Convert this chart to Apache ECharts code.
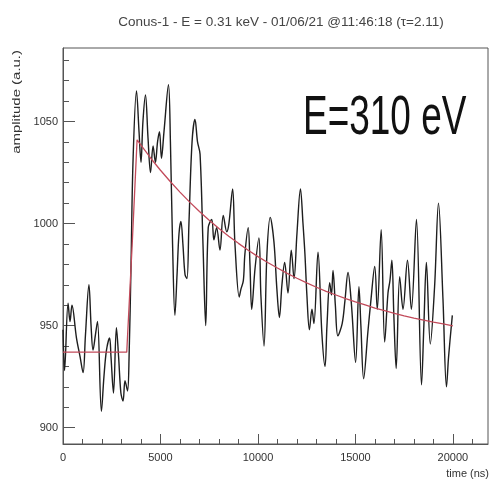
<!DOCTYPE html>
<html>
<head>
<meta charset="utf-8">
<script src="https://cdn.jsdelivr.net/npm/echarts@6/dist/echarts.min.js"></script>
<style>
  html, body { margin: 0; padding: 0; background: #fff; }
  #chart { width: 492px; height: 483px; }
</style>
</head>
<body>
<div id="chart"></div>
<script>
const timeNs = [
  0, 80, 260, 360, 460, 690, 870, 1030, 1150, 1330, 1440, 1540, 1670, 1770, 1970,
  2100, 2230, 2390, 2460, 2590, 2740, 2850, 2970, 3080, 3180, 3310, 3390, 3490, 3590,
  3770, 3900, 4000, 4100, 4230, 4360, 4490, 4620, 4740, 4850, 4950, 5050, 5180, 5410,
  5510, 5620, 5740, 5850, 5950, 6050, 6150, 6260, 6360, 6460, 6620, 6770, 6900, 7030,
  7180, 7320, 7450, 7630, 7740, 7880, 8050, 8220, 8400, 8510, 8700, 8820, 9040, 9130,
  9250, 9330, 9500, 9590, 9680, 9850, 10050, 10150, 10310, 10460, 10630, 10820, 10970,
  11100, 11230, 11370, 11540, 11710, 11850, 12000, 12180, 12310, 12410, 12510, 12640,
  12770, 12870, 13080, 13280, 13440, 13540, 13680, 13770, 13850, 13970, 14100, 14320,
  14460, 14620, 14790, 15010, 15180, 15280, 15420, 15640, 15800, 15990, 16120, 16320,
  16500, 16670, 16770, 16870, 16970, 17090, 17270, 17440, 17670, 17870, 18130, 18390,
  18510, 18640, 18840, 19060, 19260, 19490, 19670, 19780, 19970
];
const amplitude = [
  948, 928, 961, 952, 960, 944, 935, 927, 945, 970, 950, 938, 946, 952, 908,
  925, 938, 944, 935, 917, 949, 935, 917, 913, 923, 918, 935, 980, 1030,
  1065, 1045, 1030, 1050, 1063, 1042, 1025, 1038, 1030, 1040, 1045, 1032, 1045, 1068,
  1040, 990, 955, 975, 995, 1001, 990, 975, 973, 1000, 1040, 1051, 1040, 1034,
  990, 950, 998, 1002, 992, 998, 987, 1004, 996, 1000, 1017, 990, 964, 968,
  972, 985, 998, 980, 958, 978, 993, 965, 940, 985, 1003, 991, 968,
  954, 970, 981, 966, 987, 973, 995, 1017, 1000, 985, 965, 948,
  958, 951, 986, 946, 930, 950, 971, 965, 977, 960, 945, 951,
  962, 976, 961, 932, 969, 950, 924, 947, 963, 979, 958, 997,
  942, 966, 972, 982, 955, 929, 974, 958, 982, 958, 1002, 921,
  950, 981, 941, 969, 1010, 963, 920, 935, 955
];

// Pulse-shape fit (baseline, rise, exponential decay)
const fitTime = [
  0, 1000, 2000, 3000, 3270, 3550, 3800, 4000, 4500, 5000, 5500, 6000, 6500, 7000,
  7500, 8000, 8500, 9000, 9500, 10000, 10500, 11000, 11500, 12000, 12500, 13000,
  13500, 14000, 14500, 15000, 15500, 16000, 16500, 17000, 17500, 18000, 18500,
  19000, 19500, 20000
];
const fitAmp = [
  937, 937, 937, 937, 937, 990, 1041, 1038.4, 1032.0, 1026.1, 1020.6, 1015.4, 1010.5, 1005.9,
  1001.6, 997.6, 993.8, 990.3, 986.9, 983.8, 980.9, 978.2, 975.6, 973.2, 970.9, 968.8,
  966.8, 965.0, 963.2, 961.6, 960.1, 958.6, 957.3, 956.0, 954.8, 953.7, 952.7,
  951.7, 950.8, 949.9
];

// Axis ticks
const xMajorTicks = [0, 5000, 10000, 15000, 20000];
const xMinorTicks = [1000, 2000, 3000, 4000, 6000, 7000, 8000, 9000, 11000, 12000,
  13000, 14000, 16000, 17000, 18000, 19000, 21000];
const yMajorTicks = [900, 950, 1000, 1050];
const yMinorTicks = [910, 920, 930, 940, 960, 970, 980, 990, 1010, 1020, 1030, 1040,
  1060, 1070, 1080];

const titleText = 'Conus-1 - E = 0.31 keV - 01/06/21 @11:46:18 (\u03c4=2.11)';
const energyText = 'E=310 eV';
const xTitle = 'time (ns)';
const yTitle = 'amplitude (a.u.)';

const X_MIN = 0, X_MAX = 21800, Y_MIN = 892, Y_MAX = 1086;
const FONT = '"Liberation Sans", Arial, sans-serif';
const AXIS_COLOR = '#555';
const plain = (v) => String(v);

const zip = (a, b) => a.map((v, i) => [v, b[i]]);

function xAxisBase(extra) {
  return Object.assign({
    type: 'value', min: X_MIN, max: X_MAX, position: 'bottom',
    splitLine: { show: false },
    axisLine: { show: true, onZero: false, lineStyle: { color: AXIS_COLOR, width: 1 } }
  }, extra);
}
function yAxisBase(extra) {
  return Object.assign({
    type: 'value', min: Y_MIN, max: Y_MAX, position: 'left',
    splitLine: { show: false },
    axisLine: { show: true, onZero: false, lineStyle: { color: AXIS_COLOR, width: 1 } }
  }, extra);
}

const chart = echarts.init(document.getElementById('chart'), null, { renderer: 'canvas' });
chart.setOption({
  animation: false,
  backgroundColor: '#fff',
  title: {
    text: titleText, left: 276, top: 10, textAlign: 'center',
    textStyle: { fontFamily: FONT, fontSize: 13.5, fontWeight: 'normal', color: '#444' }
  },
  grid: {
    left: 63, right: 4, top: 48, bottom: 39, show: true,
    borderColor: AXIS_COLOR, borderWidth: 1, backgroundColor: 'transparent'
  },
  xAxis: [
    xAxisBase({
      axisTick: { show: true, inside: true, length: 10, customValues: xMajorTicks,
        lineStyle: { color: AXIS_COLOR } },
      axisLabel: { show: true, customValues: xMajorTicks, margin: 8, formatter: plain,
        fontFamily: FONT, fontSize: 11, color: '#333' }
    }),
    xAxisBase({
      axisLine: { show: false },
      axisTick: { show: true, inside: true, length: 5, customValues: xMinorTicks,
        lineStyle: { color: AXIS_COLOR } },
      axisLabel: { show: false }
    })
  ],
  yAxis: [
    yAxisBase({
      axisTick: { show: true, inside: true, length: 12, customValues: yMajorTicks,
        lineStyle: { color: AXIS_COLOR } },
      axisLabel: { show: true, customValues: yMajorTicks, margin: 5, formatter: plain,
        fontFamily: FONT, fontSize: 11, color: '#333' }
    }),
    yAxisBase({
      axisLine: { show: false },
      axisTick: { show: true, inside: true, length: 6, customValues: yMinorTicks,
        lineStyle: { color: AXIS_COLOR } },
      axisLabel: { show: false }
    })
  ],
  series: [
    {
      type: 'line', name: 'signal', xAxisIndex: 0, yAxisIndex: 0,
      data: zip(timeNs, amplitude),
      showSymbol: false, smooth: 0.35,
      lineStyle: { color: '#1e1e1e', width: 1.4 }
    },
    {
      type: 'line', name: 'fit', xAxisIndex: 0, yAxisIndex: 0,
      data: zip(fitTime, fitAmp),
      showSymbol: false, smooth: false,
      lineStyle: { color: '#c24a5a', width: 1.3 }
    }
  ],
  graphic: [
    {
      type: 'text', x: 17, y: 50, rotation: Math.PI / 2, scaleX: 1.3,
      style: { text: yTitle, font: '11.5px ' + FONT, fill: '#333',
        align: 'right', verticalAlign: 'middle' }
    },
    {
      type: 'text', x: 489, y: 474,
      style: { text: xTitle, font: '11px ' + FONT, fill: '#333',
        align: 'right', verticalAlign: 'middle' }
    },
    {
      type: 'text', x: 303, y: 119, scaleX: 0.66,
      style: { text: energyText, font: '56px ' + FONT, fill: '#111',
        align: 'left', verticalAlign: 'middle' }
    }
  ]
});
</script>
</body>
</html>
